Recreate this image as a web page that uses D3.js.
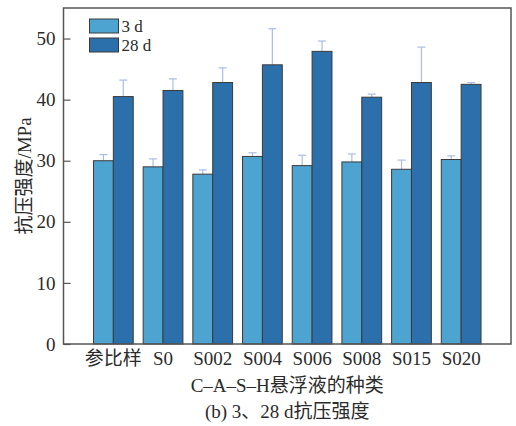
<!DOCTYPE html>
<html>
<head>
<meta charset="utf-8">
<script src="https://cdn.jsdelivr.net/npm/d3@7"></script>
<style>
  body { margin: 0; background: #fff; }
  text { font-family: "Liberation Serif", "Noto Sans CJK SC", serif; fill: #2b2b2b; }
</style>
</head>
<body>
<div id="chart"></div>
<script>
// compressive strength data
var categories = ["参比样", "S0", "S002", "S004", "S006", "S008", "S015", "S020"];
var series = ["3 d", "28 d"];
var strength3d = [30.0, 29.0, 27.8, 30.7, 29.2, 29.8, 28.6, 30.2];
var strength28d = [40.5, 41.5, 42.8, 45.7, 47.9, 40.4, 42.8, 42.5];
var errTop3d = [31.0, 30.3, 28.5, 31.3, 30.9, 31.1, 30.1, 30.8];
var errTop28d = [43.2, 43.4, 45.2, 51.6, 49.6, 40.9, 48.6, 42.8];
var yTicks = [0, 10, 20, 30, 40, 50];

var colors = ["#4ea4d0", "#2b6fab"];

var W = 516, H = 426;
var margin = {left: 63.5, top: 8, right: 5, bottom: 82};
var w = W - margin.left - margin.right;
var h = H - margin.top - margin.bottom;

var svg = d3.select("#chart").append("svg")
  .attr("width", W)
  .attr("height", H);

var g = svg.append("g").attr("transform", "translate(" + margin.left + "," + margin.top + ")");

var x = d3.scaleBand()
  .domain(categories)
  .range([25, w - 25])
  .paddingInner(0.2)
  .paddingOuter(0.1);

var x1 = d3.scaleBand()
  .domain(series)
  .range([0, x.bandwidth()]);

var y = d3.scaleLinear().domain([0, 55]).range([h, 0]);

// build rows from the arrays
var rows = categories.map(function(c, i) {
  return {
    cat: c,
    vals: [
      {s: series[0], v: strength3d[i], e: errTop3d[i]},
      {s: series[1], v: strength28d[i], e: errTop28d[i]}
    ]
  };
});

var groups = g.selectAll(".grp")
  .data(rows)
  .enter().append("g")
  .attr("class", "grp")
  .attr("transform", function(d) { return "translate(" + x(d.cat) + ",0)"; });

// error bars (upper only)
groups.selectAll(".err")
  .data(function(d) { return d.vals; })
  .enter().append("g")
  .attr("class", "err")
  .each(function(d) {
    var cx = x1(d.s) + x1.bandwidth() / 2;
    var sel = d3.select(this);
    sel.append("line")
      .attr("x1", cx).attr("x2", cx)
      .attr("y1", y(d.v)).attr("y2", y(d.e))
      .attr("stroke", "#a9bde6").attr("stroke-width", 1.2);
    sel.append("line")
      .attr("x1", cx - 4).attr("x2", cx + 4)
      .attr("y1", y(d.e)).attr("y2", y(d.e))
      .attr("stroke", "#a9bde6").attr("stroke-width", 1.2);
  });

groups.selectAll("rect")
  .data(function(d) { return d.vals; })
  .enter().append("rect")
  .attr("x", function(d) { return x1(d.s); })
  .attr("y", function(d) { return y(d.v); })
  .attr("width", x1.bandwidth())
  .attr("height", function(d) { return h - y(d.v); })
  .attr("fill", function(d, i) { return colors[i]; })
  .attr("stroke", "#3a3a3a")
  .attr("stroke-width", 1);

// frame
g.append("rect")
  .attr("x", 0).attr("y", 0)
  .attr("width", w).attr("height", h)
  .attr("fill", "none")
  .attr("stroke", "#555")
  .attr("stroke-width", 1.5);

// y axis, inward ticks
var yAxis = g.append("g")
  .call(d3.axisLeft(y).tickValues(yTicks).tickSizeInner(-7).tickSizeOuter(0).tickPadding(8));
yAxis.select(".domain").remove();
yAxis.selectAll(".tick line").attr("stroke", "#555").attr("stroke-width", 1.2);
yAxis.selectAll("text").style("font-size", "19px").attr("fill", "#2b2b2b");

// x axis labels
var xAxis = g.append("g")
  .attr("transform", "translate(0," + h + ")")
  .call(d3.axisBottom(x).tickSize(0).tickPadding(8));
xAxis.select(".domain").remove();
xAxis.selectAll("text").style("font-size", "19px").attr("fill", "#2b2b2b");

// axis titles
svg.append("text")
  .attr("x", margin.left + w / 2)
  .attr("y", 392)
  .attr("text-anchor", "middle")
  .style("font-size", "19px")
  .text("C–A–S–H悬浮液的种类");

svg.append("text")
  .attr("x", margin.left + w / 2)
  .attr("y", 418)
  .attr("text-anchor", "middle")
  .style("font-size", "19px")
  .text("(b) 3、28 d抗压强度");

svg.append("text")
  .attr("transform", "translate(31," + (margin.top + h / 2) + ") rotate(-90)")
  .attr("text-anchor", "middle")
  .style("font-size", "19px")
  .text("抗压强度/MPa");

// legend
var legend = g.append("g").attr("transform", "translate(26,11)");
series.forEach(function(s, i) {
  legend.append("rect")
    .attr("x", 0).attr("y", i * 19)
    .attr("width", 29).attr("height", 14)
    .attr("fill", colors[i])
    .attr("stroke", "#3a3a3a")
    .attr("stroke-width", 1);
  legend.append("text")
    .attr("x", 32).attr("y", i * 19 + 13)
    .style("font-size", "17px")
    .text(s);
});
</script>
</body>
</html>
